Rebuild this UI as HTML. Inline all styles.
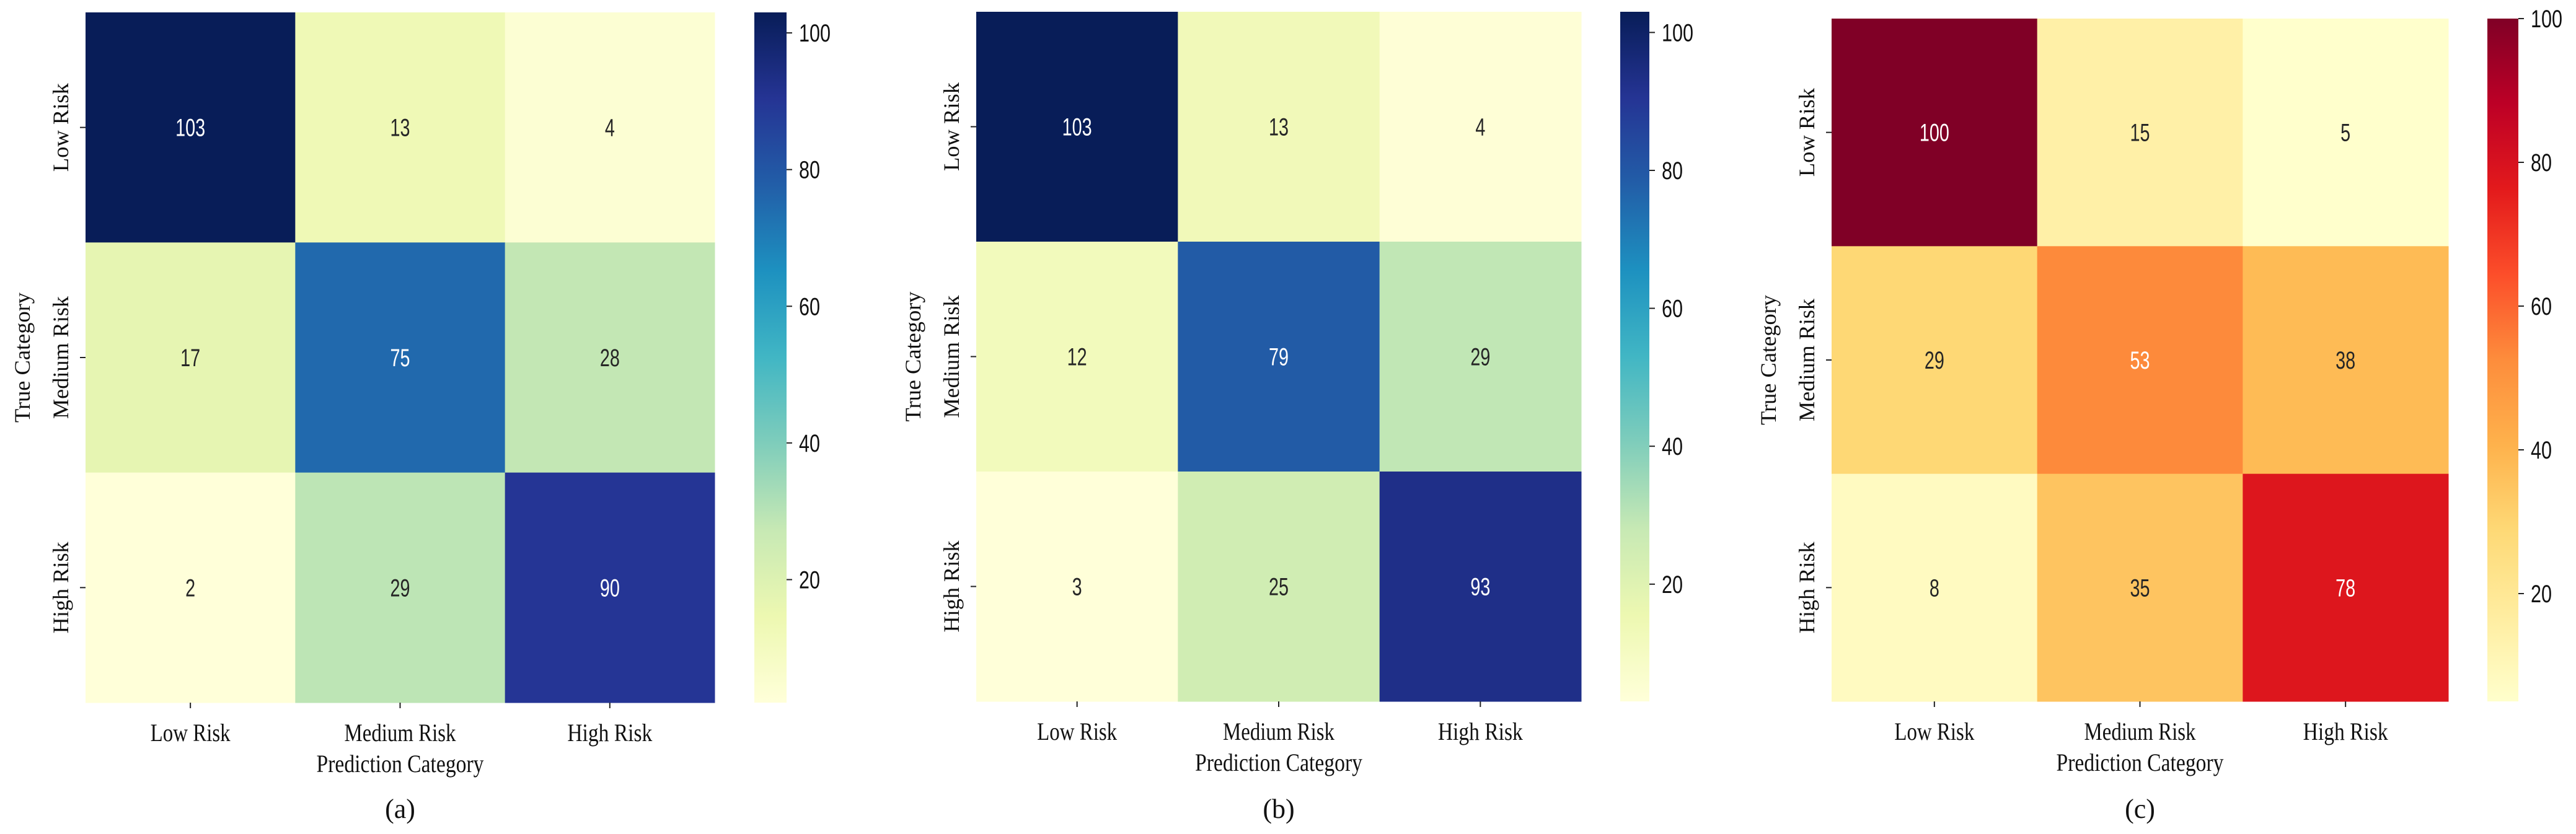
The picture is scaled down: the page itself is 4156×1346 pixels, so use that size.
<!DOCTYPE html>
<html><head><meta charset="utf-8"><style>
html,body{margin:0;padding:0;background:#fff;}
svg{display:block;}
</style></head><body>
<svg id="fig" width="4156" height="1346" viewBox="0 0 4156 1346" xmlns="http://www.w3.org/2000/svg"></svg>
<script>
const categories = ["Low Risk", "Medium Risk", "High Risk"];
const valuesA = [[103, 13, 4], [17, 75, 28], [2, 29, 90]];
const valuesB = [[103, 13, 4], [12, 79, 29], [3, 25, 93]];
const valuesC = [[100, 15, 5], [29, 53, 38], [8, 35, 78]];
const cbarTicks = [20, 40, 60, 80, 100];
const panelLabels = ["(a)", "(b)", "(c)"];

const YlGnBu = ["#ffffd9","#edf8b1","#c7e9b4","#7fcdbb","#41b6c4","#1d91c0","#225ea8","#253494","#081d58"];
const YlOrRd = ["#ffffcc","#ffeda0","#fed976","#feb24c","#fd8d3c","#fc4e2a","#e31a1c","#bd0026","#800026"];

const NS = "http://www.w3.org/2000/svg";
const svg = document.getElementById("fig");
function mk(tag, attrs, parent){ const e=document.createElementNS(NS,tag); for(const k in attrs) e.setAttribute(k,attrs[k]); (parent||svg).appendChild(e); return e; }
function hex(h){ return [parseInt(h.slice(1,3),16),parseInt(h.slice(3,5),16),parseInt(h.slice(5,7),16)]; }
function cmap(stops, t){
  t=Math.max(0,Math.min(1,t)); const p=t*(stops.length-1); const i=Math.min(Math.floor(p),stops.length-2); const f=p-i;
  const a=hex(stops[i]), b=hex(stops[i+1]);
  return [0,1,2].map(k=>Math.round(a[k]+(b[k]-a[k])*f));
}
function lum(c){ const l=c.map(v=>{v/=255; return v<=0.03928?v/12.92:Math.pow((v+0.055)/1.055,2.4);}); return 0.2126*l[0]+0.7152*l[1]+0.0722*l[2]; }

const panels = [
  {vals: valuesA, cm: YlGnBu, x:138, y:20, w:1015, h:1114, cx:1217, cw:52},
  {vals: valuesB, cm: YlGnBu, x:1575, y:19, w:976, h:1113, cx:2614, cw:47},
  {vals: valuesC, cm: YlOrRd, x:2955, y:30, w:995, h:1102, cx:4013, cw:50}
];
const xLen = [129, 180, 137];
const yLen = [143, 198, 148];
const serif = '"Liberation Serif", serif';
const sans = '"Liberation Sans", sans-serif';

panels.forEach((P, pi) => {
  const g = mk("g", {});
  
  
  const flat = P.vals.flat();
  const vmin = Math.min(...flat), vmax = Math.max(...flat);
  const n = categories.length;
  const cw = P.w / n, ch = P.h / n;
  const xScale = j => P.x + j * cw;
  const yScale = i => P.y + i * ch;
  const norm = v => (v - vmin) / (vmax - vmin);
  P.vals.forEach((row, i) => row.forEach((v, j) => {
    const c = cmap(P.cm, norm(v));
    const r = mk("rect", {x:xScale(j), y:yScale(i), width:cw+0.5, height:ch+0.5, fill:`rgb(${c})`}, g);
    
    
    const s = String(v);
    const t = mk("text", {x:xScale(j)+cw/2, y:yScale(i)+ch/2+14, "text-anchor":"middle", "font-family":sans, "font-size":40,
      textLength:16*s.length, lengthAdjust:"spacingAndGlyphs", fill: lum(c)>0.408?"#262626":"#ffffff"}, g);
    t.textContent = s;
    
    
  }));
  // axis ticks and labels
  categories.forEach((c, k) => {
    const xc = xScale(k) + cw/2, yc = yScale(k) + ch/2;
    mk("line", {x1:xc, y1:P.y+P.h, x2:xc, y2:P.y+P.h+9, stroke:"#222", "stroke-width":2}, g);
    const xt = mk("text", {x:xc, y:P.y+P.h+62, "text-anchor":"middle", "font-family":serif, "font-size":40, textLength:xLen[k], lengthAdjust:"spacingAndGlyphs", fill:"#111"}, g);
    xt.textContent = c;
    
    
    mk("line", {x1:P.x-9, y1:yc, x2:P.x, y2:yc, stroke:"#222", "stroke-width":2}, g);
    const yt = mk("text", {x:0, y:0, "text-anchor":"middle", "font-family":serif, "font-size":36, textLength:yLen[k], lengthAdjust:"spacingAndGlyphs", fill:"#111",
      transform:`translate(${P.x-28},${yc}) rotate(-90)`}, g);
    yt.textContent = c;
    
    
  });
  const xl = mk("text", {x:P.x+P.w/2, y:P.y+P.h+112, "text-anchor":"middle", "font-family":serif, "font-size":40, textLength:270, lengthAdjust:"spacingAndGlyphs", fill:"#111"}, g);
  xl.textContent = "Prediction Category";
  
  
  const yl = mk("text", {x:0, y:0, "text-anchor":"middle", "font-family":serif, "font-size":36, textLength:210, lengthAdjust:"spacingAndGlyphs", fill:"#111",
    transform:`translate(${P.x-90},${P.y+P.h/2})  rotate(-90)`}, g);
  yl.textContent = "True Category";
  
  
  const pl = mk("text", {x:P.x+P.w/2, y:1320, "text-anchor":"middle", "font-family":serif, "font-size":44, fill:"#111"}, g);
  pl.textContent = panelLabels[pi];
  
  
  // colorbar
  const gid = "grad" + pi;
  const defs = mk("defs", {}, g);
  const lg = mk("linearGradient", {id:gid, x1:0, y1:1, x2:0, y2:0}, defs);
  P.cm.forEach((c, k) => mk("stop", {offset:k/(P.cm.length-1), "stop-color":c}, lg));
  const cb = mk("rect", {x:P.cx, y:P.y, width:P.cw, height:P.h, fill:`url(#${gid})`}, g);
  
  
  const cbY = v => P.y + P.h - norm(v) * P.h;
  cbarTicks.forEach(v => {
    const yy = cbY(v);
    mk("line", {x1:P.cx+P.cw, y1:yy, x2:P.cx+P.cw+9, y2:yy, stroke:"#222", "stroke-width":2}, g);
    const s = String(v);
    const t = mk("text", {x:P.cx+P.cw+20, y:yy+14, "font-family":sans, "font-size":40, textLength:17*s.length, lengthAdjust:"spacingAndGlyphs", fill:"#111"}, g);
    t.textContent = s;
    
    
  });
});
</script>
</body></html>
